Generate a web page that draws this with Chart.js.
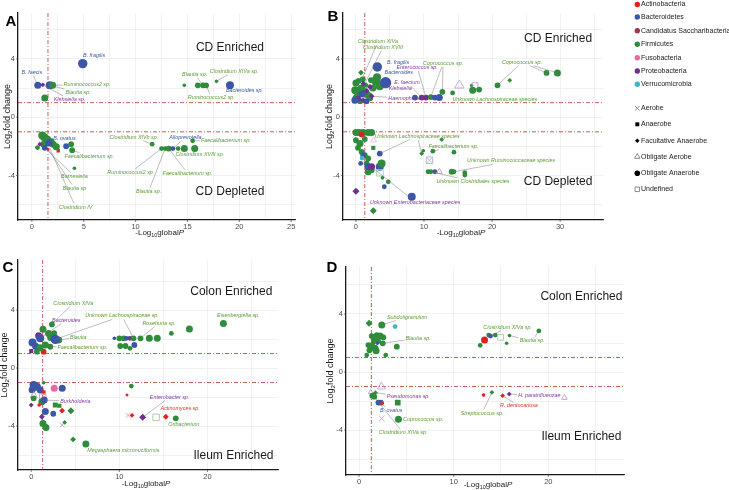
<!doctype html>
<html lang="en">
<head>
<meta charset="UTF-8" />
<title>Log2 fold change vs -Log10 global P</title>
<style>
  html, body { margin: 0; padding: 0; background: #fff; }
  body { width: 729px; height: 490px; position: relative; overflow: hidden; }
  canvas { position: absolute; }
</style>
</head>
<body>
<canvas id="chartA" width="300" height="245" style="left:0;top:0"></canvas>
<canvas id="chartB" width="290" height="245" style="left:320px;top:0"></canvas>
<canvas id="chartC" width="300" height="245" style="left:0;top:245px"></canvas>
<canvas id="chartD" width="310" height="245" style="left:320px;top:245px"></canvas>
<canvas id="legend" width="109" height="200" style="left:620px;top:0"></canvas>

<script src="https://cdn.jsdelivr.net/npm/chart.js"></script>
<script>
// categories
const PHYLA = ["Actinobacteria", "Bacteroidetes", "Candidatus Saccharibacteria", "Firmicutes", "Fusobacteria", "Proteobacteria", "Verrucomicrobia"];
const OXYGEN = ["Aerobe", "Anaerobe", "Facultative Anaerobe", "Obligate Aerobe", "Obligate Anaerobe", "Undefined"];
const Ac = 0, Ba = 1, Ca = 2, Fi = 3, Fu = 4, Pr = 5, Ve = 6;
const AE = 0, AN = 1, FA = 2, OAE = 3, OAN = 4, UN = 5;

// tick labels
const xTicksA = [0, 5, 10, 15, 20, 25];
const xTicksB = [0, 10, 20, 30];
const xTicksC = [0, 10, 20];
const xTicksD = [0, 10, 20];
const yTicks = [-4, 0, 4];
const fcCut = [1, -1];             // log2 fold change thresholds
const pCut = [1.55, 1.3, 1.3, 1.3];  // -log10 P threshold per panel

// points: [ -log10 global P, log2 fold change, phylum, oxygen, abundance class ]
const pointsA = [
  [4.9, 3.68, Ba, OAN, 6], [0.57, 2.19, Ba, OAN, 4], [1.05, 2.22, Pr, FA, 2], [1.72, 2.19, Ba, OAN, 5],
  [2.0, 2.19, Fi, OAN, 4], [1.24, 1.32, Fi, OAN, 4], [14.7, 2.19, Fi, OAN, 1], [16.0, 2.19, Fi, OAN, 3],
  [16.5, 2.19, Fi, OAN, 3], [16.8, 2.19, Fi, OAN, 3], [17.8, 2.47, Fi, OAN, 1], [19.1, 2.19, Ba, OAN, 5],
  [1.0, -1.25, Fi, OAN, 5], [1.2, -1.38, Fi, OAN, 5], [1.5, -1.5, Fi, OAN, 4], [1.8, -1.7, Fi, OAN, 5],
  [1.15, -1.85, Fi, OAN, 4], [2.05, -1.85, Fi, OAN, 4], [1.65, -1.76, Ba, OAN, 4], [0.76, -1.85, Pr, FA, 2],
  [0.54, -2.08, Fi, OAN, 2], [1.24, -2.1, Ba, OAN, 3], [1.56, -2.19, Ac, AN, 1], [2.54, -2.3, Ac, AN, 2],
  [2.35, -2.03, Fi, OAN, 4], [3.3, -1.99, Ba, OAN, 3], [3.78, -1.85, Fi, OAN, 3], [3.88, -2.26, Fi, OAN, 3],
  [4.1, -3.5, Fi, OAN, 1], [11.6, -1.85, Fi, OAN, 2], [12.5, -2.15, Fi, OAN, 2], [12.85, -2.15, Fi, OAN, 2],
  [13.2, -2.15, Fi, OAN, 3], [13.6, -2.15, Ba, OAN, 2], [14.1, -2.15, Fi, OAN, 2], [14.7, -2.15, Fi, OAN, 4],
  [15.7, -2.15, Fi, OAN, 4], [15.5, -1.62, Fi, OAN, 2]
];
const pointsB = [
  [0.74, 3.06, Fi, FA, 3], [0.0, 2.35, Fi, OAN, 4], [0.4, 2.5, Fi, OAN, 3], [-0.1, 1.85, Fi, OAN, 5],
  [0.34, 1.62, Fi, OAN, 5], [0.8, 1.95, Fi, OAN, 5], [1.32, 1.74, Fi, OAN, 4], [1.0, 2.6, Fi, OAN, 3],
  [1.8, 1.5, Fi, OAN, 4], [2.94, 2.49, Fi, OAN, 6], [3.1, 2.75, Fi, OAN, 5], [3.5, 2.12, Fi, OAN, 5],
  [2.5, 2.0, Fi, OAN, 4], [2.1, 1.3, Fi, OAN, 3], [0.0, 1.3, Fi, OAN, 4], [0.6, 1.1, Fi, OAN, 3],
  [1.5, 2.2, Fi, FA, 3], [2.2, 2.55, Fi, OAN, 3], [1.08, 2.3, Pr, FA, 3], [2.06, 2.08, Pr, FA, 3],
  [2.3, 1.44, Pr, FA, 3], [0.34, 1.28, Pr, OAN, 3], [1.08, 1.16, Pr, FA, 3], [1.6, 1.8, Pr, FA, 3],
  [3.14, 3.45, Ba, OAN, 6], [4.36, 2.37, Ba, OAN, 7], [-0.15, 1.16, Ba, OAN, 4], [1.57, 1.1, Ba, OAN, 3],
  [0.9, 1.6, Ba, OAN, 4],
  [8.68, 1.35, Ba, OAN, 3], [9.66, 1.35, Pr, OAN, 3], [10.3, 1.35, Pr, OAN, 3], [11.0, 1.38, Fi, OAN, 3],
  [11.6, 1.35, Ba, OAN, 3], [12.25, 1.35, Ba, OAN, 4], [12.7, 1.74, Fi, OAN, 3], [14.2, 1.67, Fi, OAN, 2],
  [15.2, 2.19, Pr, OAE, 6], [17.0, 2.17, Fi, OAN, 1], [17.5, 2.17, Pr, UN, 4], [17.15, 1.85, Fi, OAN, 4],
  [18.1, 1.9, Fi, OAN, 3], [20.8, 2.19, Fi, OAN, 3], [22.6, 2.53, Fi, FA, 2], [28.0, 3.04, Fi, OAN, 3],
  [29.6, 3.04, Fi, OAN, 4],
  [0.0, -1.05, Fi, OAN, 4], [0.5, -1.05, Fi, OAN, 4], [1.08, -1.05, Fi, OAN, 4], [1.8, -1.05, Fi, OAN, 4],
  [2.3, -1.05, Fi, OAN, 4], [0.83, -1.19, Ac, OAN, 3], [0.0, -1.58, Fi, OAN, 3], [0.6, -1.8, Fi, OAN, 4],
  [0.3, -2.1, Fi, OAN, 3], [1.3, -1.5, Fi, OAN, 3], [0.83, -2.37, Fi, OAN, 3], [1.3, -2.6, Fi, OAN, 3],
  [1.8, -2.83, Fi, OAN, 3], [1.57, -3.17, Fi, OAN, 3], [2.06, -3.4, Fi, OAN, 3], [2.3, -3.63, Fi, OAN, 3],
  [1.8, -3.74, Fi, OAN, 4], [2.55, -2.1, Fi, AN, 3], [2.6, -1.58, Fu, OAE, 3], [3.5, -2.49, Ba, OAN, 3],
  [1.08, -2.6, Ba, OAN, 3], [0.7, -3.17, Ba, OAN, 2], [0.9, -2.8, Ve, OAN, 2], [1.8, -3.4, Ba, OAN, 4],
  [3.5, -3.4, Ba, OAN, 5], [3.77, -3.17, Fi, OAN, 5], [2.3, -3.4, Pr, OAN, 4], [3.53, -3.81, Fi, UN, 5],
  [3.9, -4.16, Fi, OAN, 1], [4.17, -4.77, Ba, OAN, 2], [4.75, -4.43, Fi, OAN, 2], [0.0, -5.07, Pr, FA, 4],
  [8.2, -5.46, Ba, OAN, 5], [2.55, -6.42, Fi, FA, 4],
  [9.66, -2.49, Fi, FA, 2], [9.9, -2.3, Fi, OAN, 1], [11.3, -2.33, Fi, OAN, 2], [12.6, -1.53, Fi, FA, 2],
  [14.4, -2.4, Fi, OAN, 2], [10.8, -2.95, Ba, UN, 5], [10.8, -2.95, Ba, AE, 3], [10.6, -3.74, Fi, OAN, 2],
  [11.0, -3.74, Fi, OAN, 2], [11.6, -3.74, Ba, OAN, 2], [12.25, -3.74, Pr, OAE, 3], [14.07, -3.74, Fi, OAN, 3],
  [14.4, -3.74, Fi, OAN, 2], [16.0, -3.81, Fi, OAN, 2], [16.0, -3.97, Fi, OAN, 2]
];
const pointsC = [
  [2.35, 3.01, Fi, OAN, 3], [1.33, 2.67, Fi, OAN, 4], [0.84, 2.23, Pr, OAN, 4], [1.02, 2.05, Ba, OAN, 5],
  [0.15, 1.77, Ba, OAN, 5], [1.97, 2.39, Fi, OAN, 4], [2.2, 2.1, Fi, OAN, 4], [1.6, 1.59, Fi, OAN, 4],
  [2.16, 1.47, Fi, OAN, 3], [0.64, 1.13, Fi, OAN, 3], [3.11, 1.93, Fi, OAN, 4], [0.0, 1.17, Pr, AN, 3],
  [1.4, 1.13, Ac, OAN, 3], [0.5, 1.5, Ba, OAN, 4], [1.0, 1.4, Fi, OAN, 4], [2.6, 2.4, Fi, OAN, 3],
  [2.73, 1.98, Ba, OAN, 6],
  [9.43, 2.05, Ba, OAN, 1], [10.0, 2.05, Fi, OAN, 3], [10.5, 2.05, Fi, OAN, 3], [10.8, 2.05, Ba, OAN, 2],
  [11.2, 2.05, Pr, OAN, 2], [11.6, 2.05, Fi, OAN, 3], [12.4, 2.05, Fi, OAN, 3], [13.4, 2.05, Fi, OAN, 4],
  [14.3, 2.05, Fi, OAN, 4], [10.1, 1.52, Fi, OAN, 3], [10.7, 1.52, Fi, OAN, 3], [11.2, 1.36, Fi, OAN, 2],
  [11.7, 1.59, Ba, OAN, 3], [15.9, 2.39, Fi, OAN, 2], [17.95, 2.69, Fi, OAN, 4], [21.8, 3.08, Fi, OAN, 4],
  [0.27, -1.17, Ba, OAN, 5], [0.64, -1.29, Ba, OAN, 5], [1.02, -1.52, Ba, OAN, 4], [0.1, -1.5, Ba, OAN, 4],
  [1.4, -1.01, Fi, OAN, 1], [2.61, -1.4, Fu, OAN, 4], [3.52, -1.4, Ba, OAN, 4], [1.4, -1.68, Ac, AN, 3],
  [0.3, -1.9, Pr, OAE, 4], [1.3, -2.0, Pr, UN, 5], [0.27, -2.09, Fi, OAN, 3], [1.21, -2.32, Fi, OAN, 4],
  [0.0, -2.55, Pr, FA, 2], [0.9, -2.55, Ac, OAN, 1], [1.47, -2.21, Ba, OAN, 4], [2.73, -2.55, Fi, AN, 4],
  [3.2, -2.6, Fi, AN, 3], [3.5, -2.94, Ac, FA, 3], [4.5, -2.94, Fi, FA, 4], [1.6, -2.99, Ba, OAN, 4],
  [2.5, -3.15, Ba, OAN, 3], [1.21, -3.36, Pr, FA, 3], [1.33, -3.82, Fi, OAN, 4], [1.67, -4.1, Fi, OAN, 4],
  [3.52, -3.93, Pr, AE, 3], [3.8, -3.75, Fi, FA, 2], [4.75, -4.92, Fi, FA, 3], [6.2, -5.24, Fi, OAN, 4],
  [11.36, -1.24, Fi, OAN, 2], [10.87, -1.86, Ac, FA, 1], [11.0, -3.26, Ac, AE, 3], [11.44, -3.26, Ac, FA, 2],
  [12.65, -3.4, Pr, FA, 4], [14.17, -3.4, Fi, UN, 5], [15.27, -3.36, Ac, FA, 3], [16.4, -3.47, Fi, OAN, 3]
];
const pointsD = [
  [1.06, 3.36, Fi, FA, 4], [2.4, 3.24, Fi, OAN, 4], [3.81, 3.13, Ve, OAN, 2], [1.34, 2.48, Fi, OAN, 3],
  [1.87, 2.55, Fi, OAN, 3], [2.22, 2.48, Fi, OAN, 4], [2.57, 2.39, Fi, OAN, 3], [1.59, 2.25, Fi, OAN, 3],
  [2.0, 2.15, Fi, OAN, 3], [0.99, 1.86, Fi, OAN, 3], [1.34, 1.75, Fi, OAN, 4], [1.69, 1.63, Fi, OAN, 4],
  [1.8, 1.47, Fi, OAN, 4], [2.5, 1.98, Fi, OAN, 3], [3.99, 1.75, Fi, OAN, 3], [2.82, 1.17, Fi, OAN, 2],
  [0.81, 1.17, Fi, OAN, 2], [1.1, 1.5, Fi, OAN, 3], [1.94, 1.98, Ba, OAN, 1], [1.5, 2.0, Fi, FA, 3],
  [12.8, 1.84, Fi, OAN, 2], [13.26, 2.21, Ac, OAN, 4], [13.7, 2.55, Fi, OAN, 2], [13.9, 2.48, Ba, OAN, 2],
  [14.4, 2.55, Fi, OAN, 2], [14.96, 2.39, Fi, UN, 4], [15.6, 1.98, Fi, OAN, 1], [15.9, 2.51, Fi, OAN, 1],
  [19.0, 2.83, Fi, OAN, 2],
  [2.36, -1.01, Pr, OAE, 5], [1.23, -1.38, Pr, OAE, 2], [1.73, -1.43, Fi, FA, 2], [1.4, -1.63, Fi, OAN, 3],
  [1.6, -1.7, Fi, OAN, 3], [2.05, -2.11, Ba, OAN, 3], [2.3, -2.11, Ba, OAN, 3], [2.45, -2.15, Ac, OAN, 1],
  [4.09, -2.11, Fi, AN, 5], [2.4, -3.2, Pr, AE, 4], [4.16, -3.26, Fi, OAN, 4],
  [13.16, -1.59, Ac, OAN, 1], [14.04, -1.4, Fi, FA, 2], [15.17, -1.63, Ac, FA, 2], [15.87, -1.52, Pr, FA, 2],
  [21.7, -1.77, Pr, OAE, 3]
];

// taxon annotations: [text, label x, label y, phylum, leader targets, align]
const notesA = [
  ["B. fragilis", 6.0, 4.25, Ba, []], ["B. faecis", 0.0, 3.08, Ba, [[0.57, 2.19]]],
  ["Ruminococcus2 sp.", 3.05, 2.26, Fi, [[2.0, 2.19]], "left"], ["Blautia sp.", 3.24, 1.71, Fi, [[1.72, 2.19]], "left"],
  ["Klebsiella sp.", 2.1, 1.23, Pr, [[1.05, 2.22]], "left"], ["Blautia sp.", 15.7, 2.95, Fi, [[16.5, 2.19]]],
  ["Clostridium XIVa sp.", 19.5, 3.15, Fi, [[17.8, 2.47]]], ["Bacteroides sp.", 20.5, 1.85, Ba, []],
  ["Ruminococcus2 sp.", 17.3, 1.37, Fi, [[16.8, 2.19]]], ["B. ovatus", 3.15, -1.44, Ba, []],
  ["Faecalibacterium sp.", 5.53, -2.67, Fi, [[3.88, -2.26]]], ["Barnesiella", 4.1, -4.04, Fi, [[1.24, -2.1]]],
  ["Blautia sp", 4.1, -4.86, Fi, [[1.56, -2.19]]], ["Clostridium IV", 4.2, -6.16, Fi, [[1.65, -2.0]]],
  ["Clostridium XIVb sp.", 9.83, -1.37, Fi, [[11.6, -1.85]]], ["Alloprevotella", 14.8, -1.37, Ba, [[13.6, -2.15]]],
  ["Faecalibacterium sp.", 18.7, -1.58, Fi, [[15.5, -1.62]]], ["Clostridium XVIII sp.", 16.2, -2.53, Fi, [[15.7, -2.15]]],
  ["Ruminococcus2 sp.", 9.54, -3.77, Fi, [[12.5, -2.15]]], ["Faecalibacterium sp.", 15.0, -3.84, Fi, [[13.2, -2.15]]],
  ["Blautia sp.", 11.26, -5.07, Fi, [[12.85, -2.15]]]
];
const notesB = [
  ["Clostridium XIVa", 3.24, 5.2, Fi, [[0.8, 2.5]]], ["Clostridium XVIII", 3.97, 4.8, Fi, [[1.3, 2.3]]],
  ["B. fragilis", 6.2, 3.77, Ba, []], ["Bacteroides", 6.3, 3.08, Ba, []],
  ["Enterococcus sp.", 9.0, 3.42, Pr, [[10.3, 1.35]]], ["Coprococcus sp.", 12.8, 3.7, Fi, [[11.0, 1.38], [12.7, 1.74]]],
  ["E. faecium", 7.5, 2.4, Pr, [[9.66, 1.35]]], ["Klebsiella", 6.5, 1.99, Pr, [[2.06, 2.08]]],
  ["Haemophilus", 7.06, 1.3, Pr, [[2.3, 1.44]]], ["Unknown Lachnospiraceae species", 20.4, 1.23, Fi, []],
  ["Coprococcus sp.", 24.4, 3.77, Fi, [[20.8, 2.19], [28.0, 3.04], [29.6, 3.04]]],
  ["Unknown Lachnospiraceae species", 9.0, -1.3, Fi, [[9.66, -2.49], [3.5, -2.49]]],
  ["Faecalibacterium sp.", 14.3, -1.99, Fi, [[11.3, -2.33]]],
  ["Unknown Ruminococcaceae species", 22.8, -3.0, Fi, [[14.4, -3.74]]],
  ["Unknown Clostridiales species", 17.2, -4.4, Fi, [[11.0, -3.74]]],
  ["Unknown Enterobacteriaceae species", 8.7, -5.82, Pr, [[2.3, -3.4]]]
];
const notesC = [
  ["Clostridium XIVa", 4.77, 4.48, Fi, [[2.35, 3.01]]], ["Bacteroides", 3.98, 3.31, Pr, [[1.02, 2.05]]],
  ["Unknown Lachnospiraceae sp.", 10.3, 3.59, Fi, [[2.73, 1.98], [11.6, 2.05]]],
  ["Roseburia sp.", 14.5, 3.1, Fi, [[12.4, 2.05]]], ["Blautia", 5.34, 2.14, Fi, [[3.11, 1.93]]],
  ["Faecalibacterium sp.", 5.8, 1.45, Fi, [[2.16, 1.47]]], ["Eisenbergiella sp.", 23.5, 3.59, Fi, []],
  ["Burkholderia", 5.0, -2.28, Pr, [[1.47, -2.21]]], ["Enterobacter sp.", 15.7, -2.0, Pr, [[12.65, -3.4]]],
  ["Actinomyces sp.", 16.9, -2.76, Ac, []], ["Oribacterium", 17.3, -3.86, Fi, []],
  ["Megasphaera micronuciformis", 10.45, -5.66, Fi, []]
];
const notesD = [
  ["Subdoligranulum", 5.08, 3.79, Fi, [[2.4, 3.24]]], ["Blautia sp.", 6.24, 2.34, Fi, [[2.5, 1.98]]],
  ["Clostridium XIVa sp.", 15.7, 3.1, Fi, [[13.9, 2.48]]], ["Blautia sp.", 18.3, 2.14, Fi, [[15.9, 2.51], [19.0, 2.83]]],
  ["Pseudomonas sp.", 5.2, -1.72, Pr, [[1.73, -1.43]]], ["B. ovatus", 3.39, -2.62, Ba, [[2.05, -2.11]]],
  ["Coprococcus sp.", 6.77, -3.24, Fi, []], ["Clostridium XIVa sp.", 4.66, -4.2, Fi, [[1.6, -1.7]]],
  ["Streptococcus sp.", 13.0, -2.83, Fi, [[14.04, -1.4]]], ["R. dentocariosa", 16.9, -2.34, Ac, [[15.17, -1.63]]],
  ["H. parainfluenzae", 19.05, -1.59, Pr, [[15.87, -1.52]]]
];

// styles
const PHY_COLOR = ["#e3211c", "#3b56a6", "#9b3551", "#2f8c3b", "#e8689f", "#6e2f91", "#3fb7c6"];
const NOTE_COLOR = ["#e3312c", "#3b56a6", "#9b3551", "#5d9b35", "#e8689f", "#7b3d9e", "#3fb7c6"];
const SHAPE = ["crossRot", "rect", "rectRot", "triangle", "circle", "rect"];
const OPEN = [true, false, false, true, false, true];
const RAD = [0, 1.8, 2.4, 2.9, 3.5, 4.0, 4.7, 5.6];
const FONT = '"Liberation Sans", Arial, sans-serif';

function lighten(hex, f) {
    const n = parseInt(hex.slice(1), 16);
    const r = n >> 16, g = (n >> 8) & 255, b = n & 255;
    return "rgb(" + Math.round(r + (255 - r) * f) + "," + Math.round(g + (255 - g) * f) + "," + Math.round(b + (255 - b) * f) + ")";
}

// draws text pieces: [text, kind] kind 0 normal, 1 subscript, 2 italic; centred on 0
function drawRich(ctx, parts, size) {
    const fontOf = k => (k === 2 ? "italic " : "") + (k === 1 ? size * 0.68 : size) + "px " + FONT;
    let w = 0;
    parts.forEach(p => { ctx.font = fontOf(p[1]); w += ctx.measureText(p[0]).width; });
    let cx = -w / 2;
    ctx.textAlign = "left";
    ctx.textBaseline = "middle";
    parts.forEach(p => {
        ctx.font = fontOf(p[1]);
        ctx.fillText(p[0], cx, p[1] === 1 ? size * 0.3 : 0);
        cx += ctx.measureText(p[0]).width;
    });
}

function decor(cfg) {
    return {
        id: "decor" + cfg.letter,
        beforeDatasetsDraw(chart) {
            const { ctx, chartArea: a, scales: { x, y } } = chart;
            ctx.save();
            ctx.strokeStyle = "#b3372b";
            ctx.lineWidth = 0.8;
            ctx.setLineDash([4, 2, 1, 2]);
            fcCut.forEach(v => {
                const py = y.getPixelForValue(v);
                ctx.beginPath(); ctx.moveTo(a.left, py); ctx.lineTo(a.right, py); ctx.stroke();
            });
            const px = x.getPixelForValue(cfg.cut);
            ctx.beginPath(); ctx.moveTo(px, a.top); ctx.lineTo(px, a.bottom); ctx.stroke();
            ctx.restore();
        },
        afterDatasetsDraw(chart) {
            const { ctx, scales: { x, y } } = chart;
            ctx.save();
            ctx.font = "italic 5.4px " + FONT;
            ctx.textBaseline = "middle";
            cfg.notes.forEach(n => {
                const w = ctx.measureText(n[0]).width;
                const left = n[5] === "left";
                let cx = x.getPixelForValue(n[1]);
                const cy = y.getPixelForValue(n[2]);
                if (left) cx += w / 2;
                const hw = w / 2 + 1, hh = 3.5;
                ctx.strokeStyle = "#6b6b6b";
                ctx.lineWidth = 0.45;
                n[4].forEach(t => {
                    const tx = x.getPixelForValue(t[0]), ty = y.getPixelForValue(t[1]);
                    const dx = tx - cx, dy = ty - cy;
                    const k = Math.min(dx ? hw / Math.abs(dx) : 9, dy ? hh / Math.abs(dy) : 9);
                    if (k >= 1) return;
                    const len = Math.hypot(dx, dy);
                    ctx.beginPath();
                    ctx.moveTo(cx + dx * k, cy + dy * k);
                    ctx.lineTo(tx - dx / len * 1.5, ty - dy / len * 1.5);
                    ctx.stroke();
                });
                ctx.fillStyle = NOTE_COLOR[n[3]];
                ctx.textAlign = "center";
                ctx.fillText(n[0], cx, cy);
            });
            ctx.font = "12px " + FONT;
            ctx.fillStyle = "#1a1a1a";
            ctx.textAlign = "center";
            cfg.regions.forEach(r => ctx.fillText(r[0], x.getPixelForValue(r[1]), y.getPixelForValue(r[2])));
            ctx.restore();
        },
        afterDraw(chart) {
            const { ctx, chartArea: a, scales: { x, y } } = chart;
            ctx.save();
            ctx.font = "7.5px " + FONT;
            ctx.fillStyle = "#4d4d4d";
            ctx.strokeStyle = "#333";
            ctx.lineWidth = 0.6;
            ctx.textAlign = "center";
            ctx.textBaseline = "top";
            cfg.xTicks.forEach(v => {
                const px = x.getPixelForValue(v);
                ctx.fillText(String(v), px, a.bottom + 3);
                ctx.beginPath(); ctx.moveTo(px, a.bottom); ctx.lineTo(px, a.bottom + 2); ctx.stroke();
            });
            ctx.textAlign = "right";
            ctx.textBaseline = "middle";
            yTicks.forEach(v => {
                const py = y.getPixelForValue(v);
                ctx.fillText(String(v), a.left - 3, py);
                ctx.beginPath(); ctx.moveTo(a.left - 2, py); ctx.lineTo(a.left, py); ctx.stroke();
            });
            ctx.fillStyle = "#1a1a1a";
            ctx.save();
            ctx.translate((a.left + a.right) / 2 + cfg.xTitleDx, a.bottom + cfg.xTitleDy);
            drawRich(ctx, [["-Log", 0], ["10", 1], ["global", 0], ["P", 2]], 8);
            ctx.restore();
            ctx.save();
            ctx.translate(a.left - cfg.yTitleDx, (a.top + a.bottom) / 2);
            ctx.rotate(-Math.PI / 2);
            drawRich(ctx, [["Log", 0], ["2", 1], ["fold change", 0]], 9);
            ctx.restore();
            ctx.fillStyle = "#000";
            ctx.font = "bold 15px " + FONT;
            ctx.textAlign = "center";
            ctx.textBaseline = "middle";
            ctx.fillText(cfg.letter, cfg.letterPos[0], cfg.letterPos[1]);
            ctx.restore();
        }
    };
}

function makePanel(cfg) {
    const rows = cfg.rows;
    const row = c => rows[c.dataIndex];
    const gridOpts = { color: "#ebebeb", lineWidth: 0.7, drawTicks: false };
    return new Chart(document.getElementById(cfg.canvas), {
        type: "scatter",
        data: {
            datasets: [{
                data: rows.map(r => ({ x: r[0], y: r[1] })),
                pointStyle: c => SHAPE[row(c)[3]],
                pointRadius: c => RAD[row(c)[4]] * (OPEN[row(c)[3]] ? 1.15 : 1),
                pointBackgroundColor: c => OPEN[row(c)[3]] ? "rgba(255,255,255,0)" : PHY_COLOR[row(c)[2]],
                pointBorderColor: c => OPEN[row(c)[3]] ? lighten(PHY_COLOR[row(c)[2]], 0.55) : PHY_COLOR[row(c)[2]],
                pointBorderWidth: c => OPEN[row(c)[3]] ? 0.9 : 0,
            }],
        },
        options: {
            responsive: false,
            animation: false,
            events: [],
            layout: { padding: cfg.pad },
            plugins: { legend: { display: false }, tooltip: { enabled: false } },
            scales: {
                x: {
                    type: "linear", min: cfg.xRange[0], max: cfg.xRange[1],
                    afterBuildTicks: s => { s.ticks = cfg.xGrid.map(v => ({ value: v })); },
                    ticks: { display: false }, grid: gridOpts,
                    border: { color: "#1a1a1a", width: 1.3 },
                },
                y: {
                    type: "linear", min: cfg.yRange[0], max: cfg.yRange[1],
                    afterBuildTicks: s => { s.ticks = [-6, -4, -2, 0, 2, 4, 6].map(v => ({ value: v })); },
                    ticks: { display: false }, grid: gridOpts,
                    border: { color: "#1a1a1a", width: 1.3 },
                },
            },
        },
        plugins: [decor(cfg)],
    });
}

makePanel({
    letter: "A", canvas: "chartA", rows: pointsA, notes: notesA, cut: pCut[0], xTicks: xTicksA,
    xGrid: [0, 2.5, 5, 7.5, 10, 12.5, 15, 17.5, 20, 22.5, 25],
    xRange: [-1.34, 25.4], yRange: [-7.05, 7.15],
    pad: { left: 18, top: 13, right: 2, bottom: 25 },
    regions: [["CD Enriched", 19.1, 4.79], ["CD Depleted", 19.1, -5.14]],
    xTitleDx: 3, xTitleDy: 13, yTitleDx: 10, letterPos: [11, 22],
});
makePanel({
    letter: "B", canvas: "chartB", rows: pointsB, notes: notesB, cut: pCut[1], xTicks: xTicksB,
    xGrid: [0, 5, 10, 15, 20, 25, 30, 35],
    xRange: [-1.9, 36.3], yRange: [-7.05, 7.15],
    pad: { left: 23, top: 13, right: 7, bottom: 25 },
    regions: [["CD Enriched", 29.7, 5.41], ["CD Depleted", 29.7, -4.45]],
    xTitleDx: -12, xTitleDy: 13, yTitleDx: 13, letterPos: [13, 17],
});
makePanel({
    letter: "C", canvas: "chartC", rows: pointsC, notes: notesC, cut: pCut[2], xTicks: xTicksC,
    xGrid: [0, 5, 10, 15, 20, 25],
    xRange: [-1.5, 28], yRange: [-7.03, 7.45],
    pad: { left: 18, top: 15, right: 22, bottom: 20 },
    regions: [["Colon Enriched", 22.7, 5.24], ["Ileum Enriched", 22.95, -6.07]],
    xTitleDx: -2, xTitleDy: 14, yTitleDx: 13, letterPos: [8, 23],
});
makePanel({
    letter: "D", canvas: "chartD", rows: pointsD, notes: notesD, cut: pCut[3], xTicks: xTicksD,
    xGrid: [0, 5, 10, 15, 20, 25],
    xRange: [-1.38, 28], yRange: [-7.1, 7.24],
    pad: { left: 26, top: 22, right: 6, bottom: 15 },
    regions: [["Colon Enriched", 23.5, 5.17], ["Ileum Enriched", 23.5, -4.48]],
    xTitleDx: 3, xTitleDy: 10, yTitleDx: 15, letterPos: [12, 23],
});

// legend
(function drawLegend() {
    const ctx = document.getElementById("legend").getContext("2d");
    const drawPoint = (Chart.helpers && Chart.helpers.drawPoint) ? Chart.helpers.drawPoint : null;
    const mark = (style, r, bw, x, y) => {
        if (drawPoint) drawPoint(ctx, { pointStyle: style, radius: r, borderWidth: bw, rotation: 0 }, x, y);
    };
    ctx.font = "7px " + FONT;
    ctx.textBaseline = "middle";
    ctx.textAlign = "left";
    const phyRows = [4.5, 17, 30.7, 44.3, 57.7, 71, 84.3];
    PHYLA.forEach((name, i) => {
        ctx.fillStyle = PHY_COLOR[i];
        mark("circle", 2.7, 0, 17.3, phyRows[i]);
        ctx.fillStyle = "#1a1a1a";
        ctx.fillText(name, 21, phyRows[i]);
    });
    const oxyRows = [108.3, 124.3, 140.7, 156.7, 173.3, 189.3];
    OXYGEN.forEach((name, i) => {
        ctx.fillStyle = OPEN[i] ? "rgba(255,255,255,0)" : "#000";
        ctx.strokeStyle = OPEN[i] ? "#8a8a8a" : "#000";
        const r = i === FA ? 2.3 : (OPEN[i] ? 3.2 : 2.8);
        mark(SHAPE[i], r, OPEN[i] ? 0.7 : 0, 17.3, oxyRows[i]);
        ctx.fillStyle = "#1a1a1a";
        ctx.fillText(name, 21, oxyRows[i]);
    });
})();
</script>
</body>
</html>
